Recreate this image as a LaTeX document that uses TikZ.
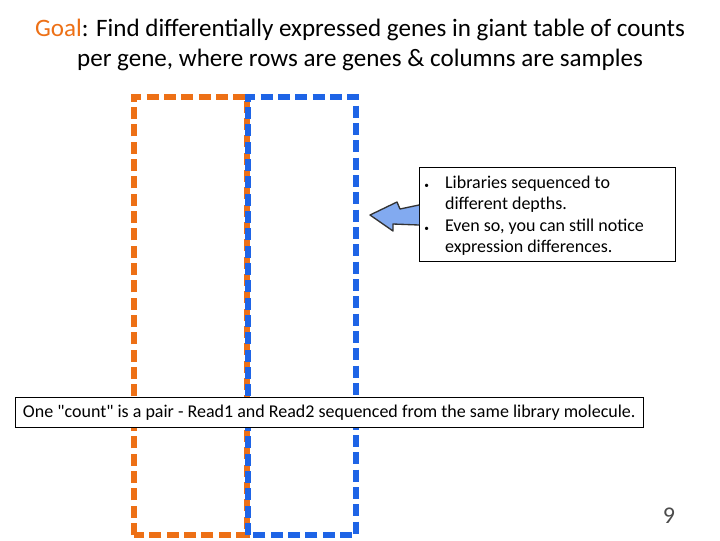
\documentclass[tikz,border=0pt]{standalone}
\usepackage{fontspec}
\setmainfont{Carlito}
\newfontfamily\plainfont{Carlito}
\definecolor{og}{RGB}{237,112,22}
\definecolor{bl}{RGB}{30,100,230}
\definecolor{ab}{RGB}{130,170,240}
\begin{document}
\begin{tikzpicture}[x=0.75pt,y=-0.75pt,
  dbox/.style={line width=4.5pt,dash pattern=on 9pt off 4pt},
  tbox/.style={draw,thin,fill=white,inner sep=3pt},
  bf/.style={font=\plainfont\fontsize{13.5}{15.8}\selectfont}]
\useasboundingbox (0,0) rectangle (720,540);
\node (title) at (360,45) [align=center,font=\fontsize{18.8}{22.5}\selectfont] {\textcolor{og}{Goal}: Find differentially expressed genes in giant table of counts\\per gene, where rows are genes \& columns are samples};
\draw[dbox,og] (134,535) -- (134,97) -- (247,97) -- (247,535) -- cycle;
\draw[dbox,bl] (248,535) -- (248,97) -- (356,97) -- (356,535) -- cycle;
\node (lib) [tbox,anchor=north west,minimum width=256*0.75pt,minimum height=94*0.75pt] at (419,167) {};
\node (t1) [anchor=north west,bf,align=left,inner sep=0pt] at (424,173) {{\scriptsize•}\hspace{0.9em}\begin{tabular}[t]{@{}l@{}}Libraries sequenced to\\different depths.\end{tabular}};
\node (t2) [anchor=north west,bf,align=left,inner sep=0pt] at (424,216) {{\scriptsize•}\hspace{0.9em}\begin{tabular}[t]{@{}l@{}}Even so, you can still notice\\expression differences.\end{tabular}};
\draw[draw=black!80,fill=ab,line width=1pt,line join=round] (419,205) -- (400,209) -- (397,202) -- (370,215) -- (393,231) -- (393,224) -- (419,225);
\node (cnt) [tbox,anchor=north west,minimum width=628*0.75pt,minimum height=30*0.75pt,bf] at (15,397) {One "count" is a pair - Read1 and Read2 sequenced from the same library molecule.};
\node (num) at (669,516) [font=\fontsize{18}{20}\selectfont,text=black!70] {9};
\end{tikzpicture}
\end{document}
